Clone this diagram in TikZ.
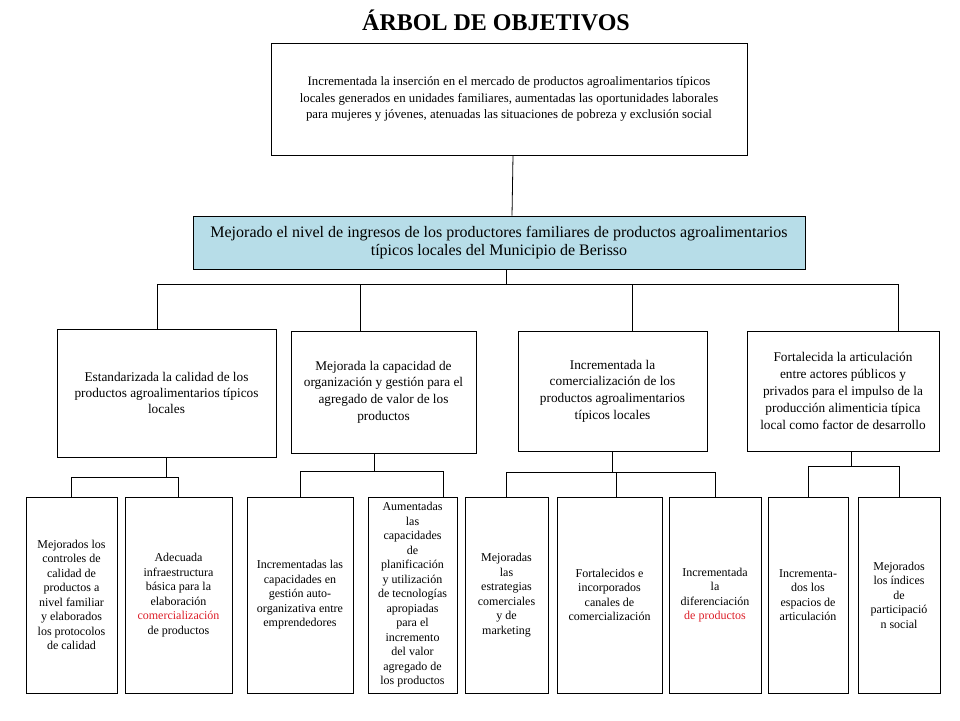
\documentclass[tikz,border=0pt]{standalone}
\usepackage{fontspec}
\setmainfont{Liberation Serif}
\usetikzlibrary{positioning}
\definecolor{celeste}{RGB}{183,221,232}
\definecolor{rojo}{RGB}{220,30,40}

\begin{document}
\begin{tikzpicture}[x=1pt,y=-1pt,line width=0.8pt,
  caja/.style={draw,align=center,inner sep=2pt},
  hoja/.style={caja,minimum height=196pt,font=\fontsize{12}{14.5}\selectfont}]
  \useasboundingbox (0,0) rectangle (960,720);
  \node[font=\fontsize{24}{28}\selectfont\bfseries] (titulo) at (496,20) {ÁRBOL DE OBJETIVOS};
  % fin y proposito
  \node[caja,minimum width=476pt,minimum height=112pt,font=\fontsize{12.8}{16.5}\selectfont] (fin) at (509,99)
    {Incrementada la inserción en el mercado de productos agroalimentarios típicos\\
     locales generados en unidades familiares, aumentadas las oportunidades laborales\\
     para mujeres y jóvenes, atenuadas las situaciones de pobreza y exclusión social};
  \node[caja,fill=celeste,minimum width=612pt,minimum height=53pt,font=\fontsize{16}{18}\selectfont] (prop) at (499,242.5)
    {Mejorado el nivel de ingresos de los productores familiares de productos agroalimentarios\\
     típicos locales del Municipio de Berisso};
  % componentes
  \node[caja,minimum width=219pt,minimum height=128pt,font=\fontsize{13.3}{16}\selectfont] (c1) at (166.5,393)
    {Estandarizada la calidad de los\\productos agroalimentarios típicos\\locales};
  \node[caja,minimum width=185pt,minimum height=122pt,font=\fontsize{13.3}{16.7}\selectfont] (c2) at (383.5,392)
    {Mejorada la capacidad de\\organización y gestión para el\\agregado de valor de los\\productos};
  \node[caja,minimum width=189pt,minimum height=120pt,font=\fontsize{13.3}{16.7}\selectfont] (c3) at (612.5,391)
    {Incrementada la\\comercialización de los\\productos agroalimentarios\\típicos locales};
  \node[caja,minimum width=192pt,minimum height=120pt,font=\fontsize{13.3}{17}\selectfont] (c4) at (843,391)
    {Fortalecida la articulación\\entre actores públicos y\\privados para el impulso de la\\producción alimenticia típica\\local como factor de desarrollo};
  % actividades
  \node[hoja,minimum width=91pt] (a1) at (71.5,595)
    {Mejorados los\\controles de\\calidad de\\productos a\\nivel familiar\\y elaborados\\los protocolos\\de calidad};
  \node[hoja,minimum width=107pt] (a2) at (178.5,595)
    {Adecuada\\infraestructura\\básica para la\\elaboración\\\textcolor{rojo}{comercialización}\\de productos};
  \node[hoja,minimum width=106pt] (a3) at (300,595)
    {Incrementadas las\\capacidades en\\gestión auto-\\organizativa entre\\emprendedores};
  \node[hoja,minimum width=89pt] (a4) at (412.5,595)
    {Aumentadas\\las\\capacidades\\de\\planificación\\y utilización\\de tecnologías\\apropiadas\\para el\\incremento\\del valor\\agregado de\\los productos};
  \node[hoja,minimum width=83pt] (a5) at (506.5,595)
    {Mejoradas\\las\\estrategias\\comerciales\\y de\\marketing};
  \node[hoja,minimum width=105pt] (a6) at (609.5,595)
    {Fortalecidos e\\incorporados\\canales de\\comercialización};
  \node[hoja,minimum width=92pt] (a7) at (715,595)
    {Incrementada\\la\\diferenciación\\\textcolor{rojo}{de productos}};
  \node[hoja,minimum width=80pt] (a8) at (808,595)
    {Incrementa-\\dos los\\espacios de\\articulación};
  \node[hoja,minimum width=82pt] (a9) at (899,595)
    {Mejorados\\los índices\\de\\participació\\n social};
  % conectores
  \draw ([xshift=4pt]fin.south) -- ([xshift=13pt]prop.north);
  \draw ([xshift=7pt]prop.south) -- ++(0,15) coordinate (bus);
  \draw ([xshift=-9.5pt]c1.north) |- (bus) -| ([xshift=55pt]c4.north);
  \draw ([xshift=-23.5pt]c2.north) |- (bus);
  \draw ([xshift=19.5pt]c3.north) |- (bus);
  \draw (c1.south) -- ++(0,20) coordinate (k1);
  \draw (a1.north) |- (k1) -| (a2.north);
  \draw ([xshift=-9pt]c2.south) -- ++(0,18) coordinate (k2);
  \draw (a3.north) |- (k2) -| ([xshift=31pt]a4.north);
  \draw[line width=1.3pt] (c3.south) -- ++(0,21) coordinate (k3);
  \draw (a5.north) |- (k3) -| (a7.north);
  \draw ([xshift=7pt]a6.north) |- (k3);
  \draw ([xshift=8pt]c4.south) -- ++(0,15) coordinate (k4);
  \draw (a8.north) |- (k4) -| (a9.north);
\end{tikzpicture}
\end{document}
